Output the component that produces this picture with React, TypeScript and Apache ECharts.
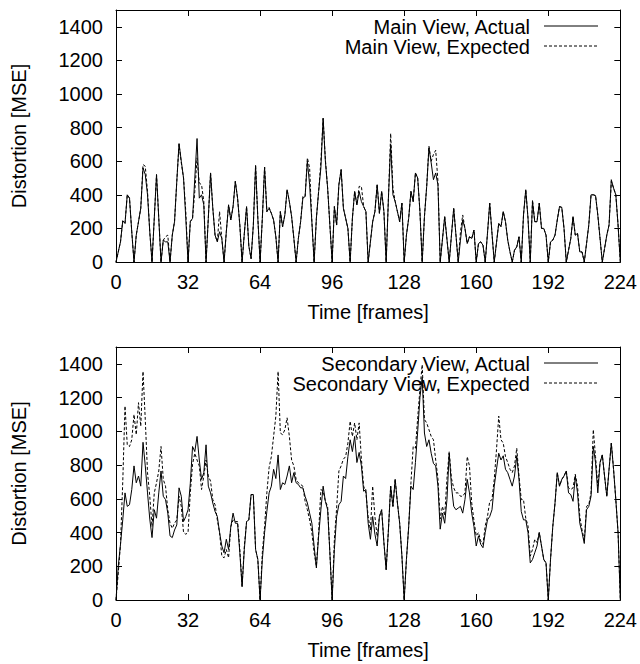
import React, { useEffect, useRef } from "react";
import * as echarts from "echarts";

// Frame indices 0..224
const frames: number[] = Array.from({ length: 225 }, (_, i) => i);

const xTicks = [0, 32, 64, 96, 128, 160, 192, 224];
const yTicks = [0, 200, 400, 600, 800, 1000, 1200, 1400];

const mainActual = [
  0, 60, 120, 245, 230, 400, 380, 180, 0, 160, 240, 320, 560, 520, 400, 180,
  0, 260, 520, 260, 0, 130, 120, 120, 0, 160, 240, 480, 705, 600, 500, 260,
  0, 240, 260, 500, 735, 380, 400, 340, 0, 260, 530, 320, 160, 120, 180, 140,
  0, 180, 340, 250, 330, 480, 380, 220, 0, 170, 330, 95, 20, 220, 575, 260,
  0, 260, 565, 300, 320, 290, 250, 150, 0, 300, 210, 280, 430, 360, 270, 140,
  0, 140, 240, 380, 390, 600, 460, 240, 0, 260, 420, 560, 855, 600, 440, 220,
  0, 330, 220, 460, 550, 320, 260, 200, 0, 260, 420, 340, 420, 360, 330, 300,
  0, 120, 240, 300, 460, 290, 420, 300, 0, 380, 700, 400, 360, 300, 240, 350,
  0, 160, 260, 420, 360, 530, 500, 300, 0, 270, 450, 680, 590, 490, 530, 460,
  0, 135, 270, 135, 0, 160, 320, 160, 0, 130, 250, 200, 110, 150, 140, 190,
  0, 110, 120, 100, 0, 170, 350, 170, 0, 115, 230, 210, 300, 240, 130, 60,
  0, 70, 90, 150, 0, 280, 430, 260, 0, 360, 240, 240, 350, 200, 200, 160,
  0, 120, 130, 160, 250, 330, 325, 200, 0, 70, 140, 270, 160, 170, 60, 60,
  0, 110, 220, 400, 400, 395, 280, 140, 0, 80, 160, 220, 490, 440, 400, 220,
  0,
];

const mainExpected = [
  0, 60, 120, 245, 230, 400, 380, 180, 0, 160, 240, 320, 580, 570, 420, 180,
  0, 260, 520, 260, 0, 130, 150, 160, 0, 160, 240, 480, 700, 590, 500, 300,
  0, 240, 260, 420, 620, 470, 460, 360, 0, 260, 530, 320, 160, 120, 300, 140,
  0, 180, 340, 250, 330, 480, 380, 220, 0, 170, 330, 95, 20, 220, 575, 260,
  0, 260, 565, 300, 325, 290, 250, 150, 0, 300, 210, 280, 430, 360, 270, 140,
  0, 140, 240, 390, 390, 620, 560, 240, 0, 260, 420, 600, 855, 610, 440, 220,
  0, 330, 220, 460, 550, 320, 260, 200, 0, 260, 420, 340, 450, 450, 330, 300,
  0, 120, 240, 300, 460, 290, 420, 300, 0, 380, 765, 440, 360, 300, 240, 350,
  0, 160, 260, 420, 360, 530, 500, 300, 0, 270, 450, 690, 600, 640, 665, 480,
  0, 135, 270, 135, 0, 160, 320, 160, 0, 180, 280, 200, 110, 150, 140, 190,
  0, 110, 120, 100, 0, 170, 350, 170, 0, 115, 230, 210, 300, 240, 130, 60,
  0, 70, 90, 150, 0, 280, 430, 260, 0, 370, 240, 240, 350, 200, 200, 160,
  0, 120, 130, 160, 250, 330, 325, 200, 0, 70, 140, 270, 160, 170, 60, 60,
  0, 110, 220, 400, 400, 395, 280, 140, 0, 80, 160, 220, 480, 440, 400, 220,
  0,
];

const secActual = [
  0, 200, 330, 475, 635, 555, 565, 655, 795, 695, 735, 675, 935, 795, 635, 480,
  370, 535, 485, 635, 765, 615, 595, 515, 380, 370, 415, 445, 665, 615, 465, 495,
  535, 690, 910, 880, 970, 830, 715, 755, 920, 675, 635, 575, 525, 495, 400, 320,
  280, 360, 300, 435, 515, 455, 455, 280, 80, 300, 465, 475, 625, 625, 300, 240,
  0, 240, 400, 525, 635, 675, 775, 720, 860, 655, 695, 685, 735, 795, 695, 755,
  695, 685, 665, 665, 615, 575, 515, 455, 320, 190, 380, 535, 675, 585, 535, 280,
  0, 300, 495, 565, 585, 735, 720, 850, 950, 880, 970, 815, 875, 795, 645, 655,
  455, 360, 495, 390, 320, 495, 535, 340, 180, 415, 675, 555, 715, 575, 455, 260,
  0, 240, 435, 675, 655, 815, 1000, 1200, 1320, 990, 910, 950, 870, 810, 795, 675,
  420, 515, 455, 595, 870, 675, 555, 535, 545, 555, 515, 595, 715, 635, 515, 435,
  320, 380, 330, 310, 400, 475, 495, 535, 675, 775, 870, 830, 855, 775, 755, 715,
  675, 735, 855, 715, 525, 475, 475, 400, 220, 240, 280, 320, 400, 320, 240, 220,
  0, 240, 435, 575, 755, 675, 715, 735, 765, 635, 625, 585, 735, 635, 455, 400,
  335, 535, 555, 615, 910, 815, 635, 815, 860, 735, 615, 775, 930, 775, 595, 400,
  0,
];

const secExpected = [
  0, 160, 330, 700, 1150, 920, 910, 950, 1100, 980, 1170, 1030, 1355, 1070, 755, 615,
  435, 635, 695, 765, 910, 715, 675, 535, 455, 425, 455, 475, 615, 555, 400, 390,
  400, 635, 805, 870, 830, 795, 655, 735, 830, 735, 705, 595, 565, 475, 400, 260,
  250, 300, 250, 435, 475, 465, 465, 300, 80, 320, 465, 475, 625, 625, 300, 240,
  0, 280, 435, 635, 785, 850, 970, 1090, 1355, 990, 980, 1010, 1080, 970, 830, 795,
  715, 695, 685, 675, 585, 535, 475, 400, 280, 200, 400, 655, 645, 585, 555, 280,
  0, 360, 545, 765, 795, 835, 850, 930, 1060, 970, 1050, 950, 1050, 835, 675, 635,
  495, 415, 675, 495, 375, 495, 535, 340, 180, 415, 675, 555, 715, 575, 455, 260,
  0, 240, 435, 695, 910, 900, 1080, 1250, 1395, 1070, 1050, 1010, 970, 950, 830, 720,
  480, 555, 500, 720, 880, 720, 665, 635, 635, 615, 615, 635, 850, 795, 575, 470,
  380, 400, 350, 330, 440, 495, 585, 595, 715, 890, 1090, 950, 930, 850, 815, 775,
  755, 795, 900, 735, 595, 595, 485, 440, 260, 300, 360, 340, 400, 320, 240, 220,
  0, 240, 435, 575, 755, 675, 715, 735, 765, 665, 655, 665, 745, 675, 495, 415,
  355, 555, 565, 635, 1010, 850, 675, 815, 860, 735, 615, 775, 930, 775, 595, 400,
  0,
];

const legendLabels = [
  "Main View, Actual",
  "Main View, Expected",
  "Secondary View, Actual",
  "Secondary View, Expected",
];

const FONT = "'Liberation Sans', Arial, Helvetica, sans-serif";
const FS = 20;

function pairs(vals: number[]) {
  return frames.map((f, i) => [f, vals[i]]);
}

export default function App() {
  const ref = useRef<HTMLDivElement>(null);

  useEffect(() => {
    if (!ref.current) return;
    const chart = echarts.init(ref.current, null, { renderer: "svg" });

    const grids = [
      { left: 116, top: 10, width: 505, height: 252 },
      { left: 116, top: 347, width: 505, height: 253 },
    ];

    const axisLine = { show: true, lineStyle: { color: "#000", width: 1 } };
    const labelStyle = { color: "#000", fontSize: FS, fontFamily: FONT };
    const plain = (v: number) => String(v);

    const xAxes: any[] = [];
    const yAxes: any[] = [];
    [0, 1].forEach((g) => {
      xAxes.push({
        type: "value",
        gridIndex: g,
        position: "bottom",
        min: xTicks[0],
        max: xTicks[xTicks.length - 1],
        interval: 32,
        axisLine: { ...axisLine, onZero: false },
        axisTick: { show: true, inside: true, length: 6, lineStyle: { color: "#000" } },
        axisLabel: { ...labelStyle, margin: 10, formatter: plain },
        splitLine: { show: false },
        name: "Time [frames]",
        nameLocation: "middle",
        nameGap: 40,
        nameTextStyle: labelStyle,
      });
      xAxes.push({
        type: "value",
        gridIndex: g,
        position: "top",
        min: xTicks[0],
        max: xTicks[xTicks.length - 1],
        interval: 32,
        axisLine: { ...axisLine, onZero: false },
        axisTick: { show: true, inside: true, length: 6, lineStyle: { color: "#000" } },
        axisLabel: { show: false },
        splitLine: { show: false },
      });
      yAxes.push({
        type: "value",
        gridIndex: g,
        position: "left",
        min: yTicks[0],
        max: 1500,
        interval: 200,
        axisLine: { ...axisLine, onZero: false },
        axisTick: { show: true, inside: true, length: 6, lineStyle: { color: "#000" } },
        axisLabel: { ...labelStyle, margin: 13, showMaxLabel: false, formatter: plain },
        splitLine: { show: false },
        name: "Distortion [MSE]",
        nameLocation: "middle",
        nameGap: 87,
        nameTextStyle: labelStyle,
      });
      yAxes.push({
        type: "value",
        gridIndex: g,
        position: "right",
        min: yTicks[0],
        max: 1500,
        interval: 200,
        axisLine: { ...axisLine, onZero: false },
        axisTick: { show: true, inside: true, length: 6, lineStyle: { color: "#000" } },
        axisLabel: { show: false },
        splitLine: { show: false },
      });
    });

    const mk = (vals: number[], g: number, dashed: boolean, name: string) => ({
      type: "line",
      name,
      xAxisIndex: g * 2,
      yAxisIndex: g * 2,
      data: pairs(vals),
      showSymbol: false,
      symbol: "none",
      lineStyle: { color: "#000", width: 1, type: dashed ? [3, 2] : "solid" },
      z: dashed ? 2 : 3,
    });

    const legendRow = (label: string, y: number, dashed: boolean) => [
      {
        type: "text",
        x: 530,
        y: y + 1,
        style: {
          text: label,
          fill: "#000",
          font: `${FS}px ${FONT}`,
          textAlign: "right",
          textVerticalAlign: "middle",
        },
        z: 10,
      },
      {
        type: "line",
        shape: { x1: 544, y1: y, x2: 598, y2: y },
        style: { stroke: "#000", lineWidth: 1, lineDash: dashed ? [3, 2] : null },
        z: 10,
      },
    ];

    chart.setOption({
      animation: false,
      backgroundColor: "#fff",
      grid: grids,
      xAxis: xAxes,
      yAxis: yAxes,
      series: [
        mk(mainExpected, 0, true, legendLabels[1]),
        mk(mainActual, 0, false, legendLabels[0]),
        mk(secExpected, 1, true, legendLabels[3]),
        mk(secActual, 1, false, legendLabels[2]),
      ],
      graphic: [
        ...legendRow(legendLabels[0], 26, false),
        ...legendRow(legendLabels[1], 46, true),
        ...legendRow(legendLabels[2], 363, false),
        ...legendRow(legendLabels[3], 383, true),
      ],
    });

    return () => chart.dispose();
  }, []);

  return (
    <div
      ref={ref}
      style={{ position: "fixed", left: 0, top: 0, width: 640, height: 664, background: "#fff" }}
    />
  );
}
